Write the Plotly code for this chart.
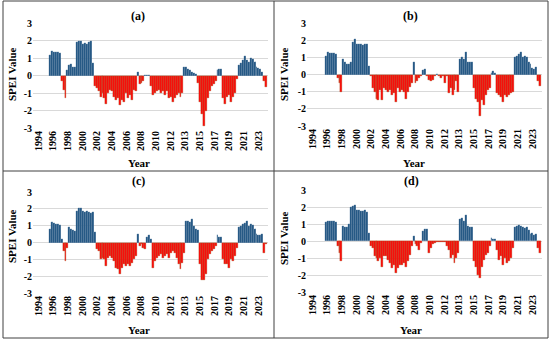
import plotly.graph_objects as go

# Quarterly SPEI values, 1996 Q1 .. 2023 Q4 (None = no data)
start_year = 1996
spei_a = [
    1.2, 1.4, 1.35, 1.35,   1.35, 1.3, -0.3, -0.8,   -1.3, 0.3, 0.6, 0.65,   0.5, 0.5, 1.9, 2.0,
    1.95, 1.8, 1.85, 1.8,   1.9, 1.95, 0.7, -0.6,   -0.7, -0.9, -1.2, -1.0,   -1.3, -1.6, -1.0, -0.8,
    -0.9, -1.2, -1.4, -1.3,   -1.7, -1.4, -1.5, -1.0,   -1.3, -1.1, -1.4, -0.8,   -0.9, 0.2, -0.5, -0.4,
    -0.3, 0.05, 0.05, 0.05,   -0.6, -1.1, -1.0, -0.9,   -0.8, -1.0, -0.9, -1.1,   -0.9, -1.3, -1.2, -1.5,
    -1.3, -1.1, -1.0, -1.2,   -1.0, 0.5, 0.5, 0.4,   0.3, 0.2, 0.15, 0.1,   -0.4, -1.5, -2.2, -2.9,
    -2.0, -1.3, -0.9, -0.6,   -0.5, -0.3, 0.3, 0.4,   0.35, -1.3, -1.6, -1.2,   -1.1, -1.5, -1.2, -1.0,
    -0.2, 0.6, 0.7, 0.9,   1.1, 0.9, 0.75, 1.0,   0.95, 0.8, 0.5, 0.45,   0.4, 0.2, -0.3, -0.65,
]
spei_b = [
    None, 1.1, 1.3, 1.25,   1.25, 1.25, 1.2, -0.2,   -0.5, -1.0, 0.9, 0.7,   0.6, 0.6, 0.7, 1.9,
    2.05, 1.8, 1.75, 1.75,   1.7, 1.75, 1.8, 0.5,   -0.1, -0.8, -1.0, -1.4,   -1.5, -0.9, -1.5, -0.8,
    -0.9, -1.0, -0.9, -1.2,   -1.1, -1.6, -0.8, -1.0,   -0.9, -1.0, -1.4, -1.0,   -0.7, -0.5, 0.75, -0.5,
    -0.4, -0.2, -0.1, 0.25,   0.3, -0.1, -0.3, -0.4,   -0.3, -0.1, 0.05, -0.1,   -0.2, -0.1, -0.5, -0.1,
    -1.1, -0.8, -1.2, -0.9,   -0.4, -1.0, 0.9, 1.0,   0.9, 1.3, 0.7, 0.7,   0.7, -0.8, -1.4, -1.6,
    -2.4, -1.5, -1.8, -1.2,   -0.9, -0.8, 0.1, 0.2,   0.1, -1.1, -1.2, -1.3,   -1.6, -1.2, -1.3, -1.2,
    -1.1, -1.0, 1.0, 1.1,   1.2, 1.3, 1.0, 1.05,   1.0, 0.7, 0.6, 0.4,   0.3, 0.45, -0.4, -0.65,
]
spei_c = [
    0.8, 1.2, 1.15, 1.1,   1.1, 1.05, 0.2, -0.5,   -1.1, -0.3, 0.9, 0.8,   0.75, 0.7, 1.9, 2.05,
    2.05, 1.85, 1.8, 1.85,   1.8, 1.75, 1.8, 0.6,   -0.4, -0.5, -1.0, -0.9,   -1.0, -1.4, -0.9, -0.8,
    -0.9, -1.1, -1.5, -1.6,   -1.9, -1.5, -1.3, -1.4,   -1.3, -1.4, -1.2, -1.0,   -0.8, 0.5, -0.2, -0.1,
    -0.3, -0.4, 0.3, 0.45,   0.2, -1.5, -1.1, -0.9,   -0.8, -0.7, -0.9, -0.8,   -0.7, -0.9, -0.6, -0.5,
    -0.6, -0.9, -1.3, -1.6,   -1.2, -0.6, 1.3, 1.25,   1.2, 1.4, 1.0, 0.8,   0.75, -1.3, -2.2, -2.2,
    -1.9, -1.0, -0.7, -0.5,   -0.4, -0.2, 0.45, 0.35,   0.3, -1.0, -1.3, -1.25,   -1.5, -1.0, -1.1, -0.8,
    -0.3, 0.9, 1.0, 1.1,   1.15, 1.3, 1.0, 1.1,   1.05, 0.8, 0.5, 0.45,   0.45, 0.5, -0.6, -0.1,
]
spei_d = [
    None, 1.1, 1.2, 1.2,   1.15, 1.15, 1.1, -0.3,   -0.7, -1.2, 0.9, 0.85,   0.8, 1.0, 2.0, 2.05,
    2.1, 1.8, 1.8, 1.75,   1.75, 1.8, 1.7, 0.5,   -0.3, -0.4, -0.9, -1.0,   -1.2, -1.0, -1.5, -0.9,
    -0.9, -1.1, -1.3, -1.6,   -1.4, -1.9, -1.6, -1.4,   -1.4, -1.3, -1.5, -1.2,   -0.8, -0.3, 0.3, -0.2,
    -0.3, -0.5, -0.1, 0.6,   0.7, 0.7, -0.7, -0.4,   -0.2, -0.1, -0.05, -0.05,   -0.05, -0.05, -0.05, -0.3,
    -0.5, -1.0, -0.8, -1.3,   -1.0, -0.7, 1.3, 1.35,   1.2, 1.55, 0.9, 0.85,   0.8, -1.2, -1.5, -2.0,
    -2.2, -1.5, -1.1, -0.8,   -0.7, -0.3, 0.15, 0.1,   0.1, -0.5, -1.1, -0.9,   -1.4, -1.0, -1.3, -1.2,
    -1.0, -0.4, 0.8, 0.9,   0.95, 0.9, 0.8, 0.75,   0.8, 0.65, 0.4, 0.45,   0.35, 0.4, -0.4, -0.7,
]
panel_labels = ["(a)", "(b)", "(c)", "(d)"]
tick_labels = ["1994", "1996", "1998", "2000", "2002", "2004", "2006", "2008",
               "2010", "2012", "2013", "2015", "2017", "2019", "2021", "2023"]
y_ticks = [-3, -2, -1, 0, 1, 2, 3]

W, H = 550, 342
BLUE = "#1F5381"
RED = "#FF0A0A"
BROWN = "#94561F"
FONT = "Liberation Serif"

def px_x(p):
    return p / W

def px_y(p):
    return 1 - p / H

# panel plot areas in pixels: (left, right, top, bottom)
areas = [(33, 268, 23, 128), (307, 542, 23, 126), (33, 268, 192, 293), (307, 542, 190, 292)]
title_pos = [(138, 16), (410, 16), (138, 181), (411, 181)]
ytitle_pos = [(12, 74), (284, 74), (12, 236), (284, 238)]
xtitle_pos = [(139, 163), (414, 163), (139, 330), (411, 330)]

x_range = [1993.96, 2024.1]
tickvals = [1994.64 + k * (2022.85 - 1994.64) / 15 for k in range(16)]

fig = go.Figure()
series = [spei_a, spei_b, spei_c, spei_d]
for i, vals in enumerate(series):
    xs = [start_year + (j + 0.5) / 4 for j in range(len(vals))]
    fill = [BLUE if (v is not None and v >= 0) else RED for v in vals]
    line = ["rgba(255,255,255,0.35)" if (v is not None and v >= 0) else BROWN for v in vals]
    sfx = "" if i == 0 else str(i + 1)
    fig.add_trace(go.Bar(x=xs, y=vals, width=0.25,
                         marker=dict(color=fill, line=dict(color=line, width=0.3)),
                         xaxis="x" + sfx, yaxis="y" + sfx, showlegend=False, hoverinfo="skip"))
    l, r, t, b = areas[i]
    fig.layout["xaxis" + sfx] = dict(
        domain=[px_x(l), px_x(r)], anchor="y" + sfx, range=x_range, automargin=False,
        tickmode="array", tickvals=tickvals, ticktext=["<b>%s</b>" % s for s in tick_labels],
        tickangle=-90, tickfont=dict(family=FONT, size=10, color="black"), showgrid=False,
        zeroline=False, showline=False, ticks="", ticklen=0)
    fig.layout["yaxis" + sfx] = dict(
        domain=[px_y(b), px_y(t)], anchor="x" + sfx, range=[-3, 3], automargin=False,
        tickmode="array", tickvals=y_ticks, ticktext=["<b>%d</b>" % v for v in y_ticks],
        tickfont=dict(family=FONT, size=10, color="black"),
        showgrid=True, gridcolor="#D9D9D9", gridwidth=1, zeroline=False,
        showline=False, ticks="")
    fig.add_annotation(x=px_x(title_pos[i][0]), y=px_y(title_pos[i][1]), xref="paper", yref="paper",
                       xanchor="center", yanchor="middle",
                       text="<b>" + panel_labels[i] + "</b>", showarrow=False,
                       font=dict(family=FONT, size=12, color="black"))
    fig.add_annotation(x=px_x(ytitle_pos[i][0]), y=px_y(ytitle_pos[i][1]), xref="paper", yref="paper",
                       xanchor="center", yanchor="middle",
                       text="<b>SPEI Value</b>", textangle=-90, showarrow=False,
                       font=dict(family=FONT, size=11, color="black"))
    fig.add_annotation(x=px_x(xtitle_pos[i][0]), y=px_y(xtitle_pos[i][1]), xref="paper", yref="paper",
                       xanchor="center", yanchor="middle",
                       text="<b>Year</b>", showarrow=False,
                       font=dict(family=FONT, size=11, color="black"))

# frame and dividers
frame = dict(color="#404040", width=1)
fig.add_shape(type="rect", xref="paper", yref="paper", x0=px_x(3), x1=px_x(548), y0=px_y(338), y1=px_y(1), line=frame)
fig.add_shape(type="line", xref="paper", yref="paper", x0=px_x(274), x1=px_x(274), y0=px_y(338), y1=px_y(1), line=frame)
fig.add_shape(type="line", xref="paper", yref="paper", x0=px_x(3), x1=px_x(548), y0=px_y(171), y1=px_y(171), line=frame)

fig.update_layout(width=W, height=H, margin=dict(l=0, r=0, t=0, b=0, autoexpand=False),
                  paper_bgcolor="white", plot_bgcolor="white", bargap=0)
fig.write_html("out.html", config={"displayModeBar": False},
               post_script="document.body.style.margin='0';")
